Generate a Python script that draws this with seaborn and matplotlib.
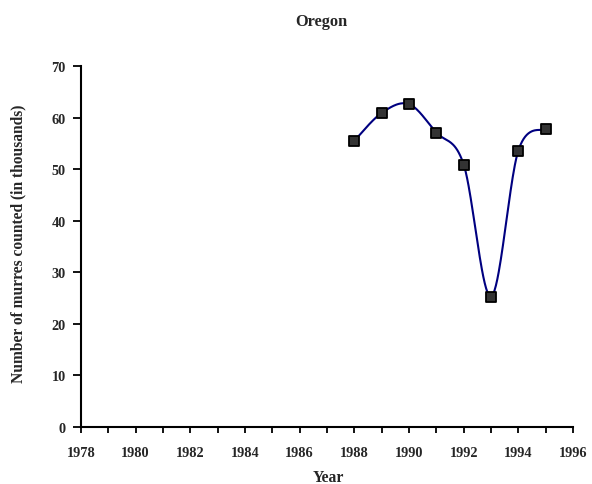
import numpy as np
import pandas as pd
import matplotlib
matplotlib.use("Agg")
import matplotlib.pyplot as plt
import seaborn as sns

years = [1988, 1989, 1990, 1991, 1992, 1993, 1994, 1995]
murres = [55.5, 60.9, 62.6, 57.1, 50.9, 25.3, 53.6, 57.8]
x_ticks = list(range(1978, 1997, 2))
y_ticks = list(range(0, 71, 10))

df = pd.DataFrame({"Year": years, "Murres": murres})

sns.set_theme(style="white")
plt.rcParams["font.family"] = ["Liberation Serif", "DejaVu Serif"]
plt.rcParams["font.weight"] = "bold"

fig = plt.figure(figsize=(5.92, 4.85), dpi=100)
ax = fig.add_axes([81 / 592, 1 - 428 / 485, (573 - 81) / 592, (428 - 67) / 485])


def smooth_curve(xs, ys, n=40):
    # Excel-style smoothed line (Catmull-Rom Bezier) for rendering only
    xs = np.asarray(xs, float)
    ys = np.asarray(ys, float)
    px = np.concatenate([[xs[0]], xs, [xs[-1]]])
    py = np.concatenate([[ys[0]], ys, [ys[-1]]])
    ox, oy = [], []
    t = np.linspace(0, 1, n)
    for i in range(1, len(px) - 2):
        p0 = np.array([px[i], py[i]])
        p3 = np.array([px[i + 1], py[i + 1]])
        p1 = p0 + (np.array([px[i + 1], py[i + 1]]) - np.array([px[i - 1], py[i - 1]])) / 6
        p2 = p3 - (np.array([px[i + 2], py[i + 2]]) - np.array([px[i], py[i]])) / 6
        b = ((1 - t) ** 3)[:, None] * p0 + (3 * (1 - t) ** 2 * t)[:, None] * p1 \
            + (3 * (1 - t) * t ** 2)[:, None] * p2 + (t ** 3)[:, None] * p3
        ox.extend(b[:, 0]); oy.extend(b[:, 1])
    return np.array(ox), np.array(oy)


sx, sy = smooth_curve(years, murres)
ax.plot(sx, sy, color="#000080", lw=1.5, zorder=2)
sns.scatterplot(data=df, x="Year", y="Murres", ax=ax, marker="s", s=55,
                color="#333333", edgecolor="black", linewidth=1.3, zorder=3)

ax.set_xlim(1978, 1996)
ax.set_ylim(0, 70)
ax.set_xticks(x_ticks)
ax.set_xticks(list(range(1979, 1996, 2)), minor=True)
ax.set_yticks(y_ticks)
ax.set_xticklabels([str(v) for v in x_ticks], fontsize=10.3, fontweight="bold")
ax.set_yticklabels([str(v) for v in y_ticks], fontsize=10.3, fontweight="bold")

for s in ["top", "right"]:
    ax.spines[s].set_visible(False)
for s in ["left", "bottom"]:
    ax.spines[s].set_color("black")
    ax.spines[s].set_linewidth(1.5)

ax.tick_params(axis="x", which="both", direction="out", length=4, width=1.3,
               color="black", bottom=True, pad=10)
ax.tick_params(axis="y", direction="out", length=6, width=1.3, color="black",
               left=True, pad=5)

ax.set_xlabel("Year", fontsize=11.3, fontweight="bold")
ax.xaxis.set_label_coords((328 - 81) / 492, (428 - 470) / 361)
ax.set_ylabel("Number of murres counted (in thousands)", fontsize=11.2,
              fontweight="bold")
ax.yaxis.set_label_coords((26 - 81) / 492, (428 - 243.5) / 361)
fig.text(321 / 592, 1 - 22 / 485, "Oregon", ha="center", va="center",
         fontsize=11.8, fontweight="bold")

fig.savefig("out.png", dpi=100)
